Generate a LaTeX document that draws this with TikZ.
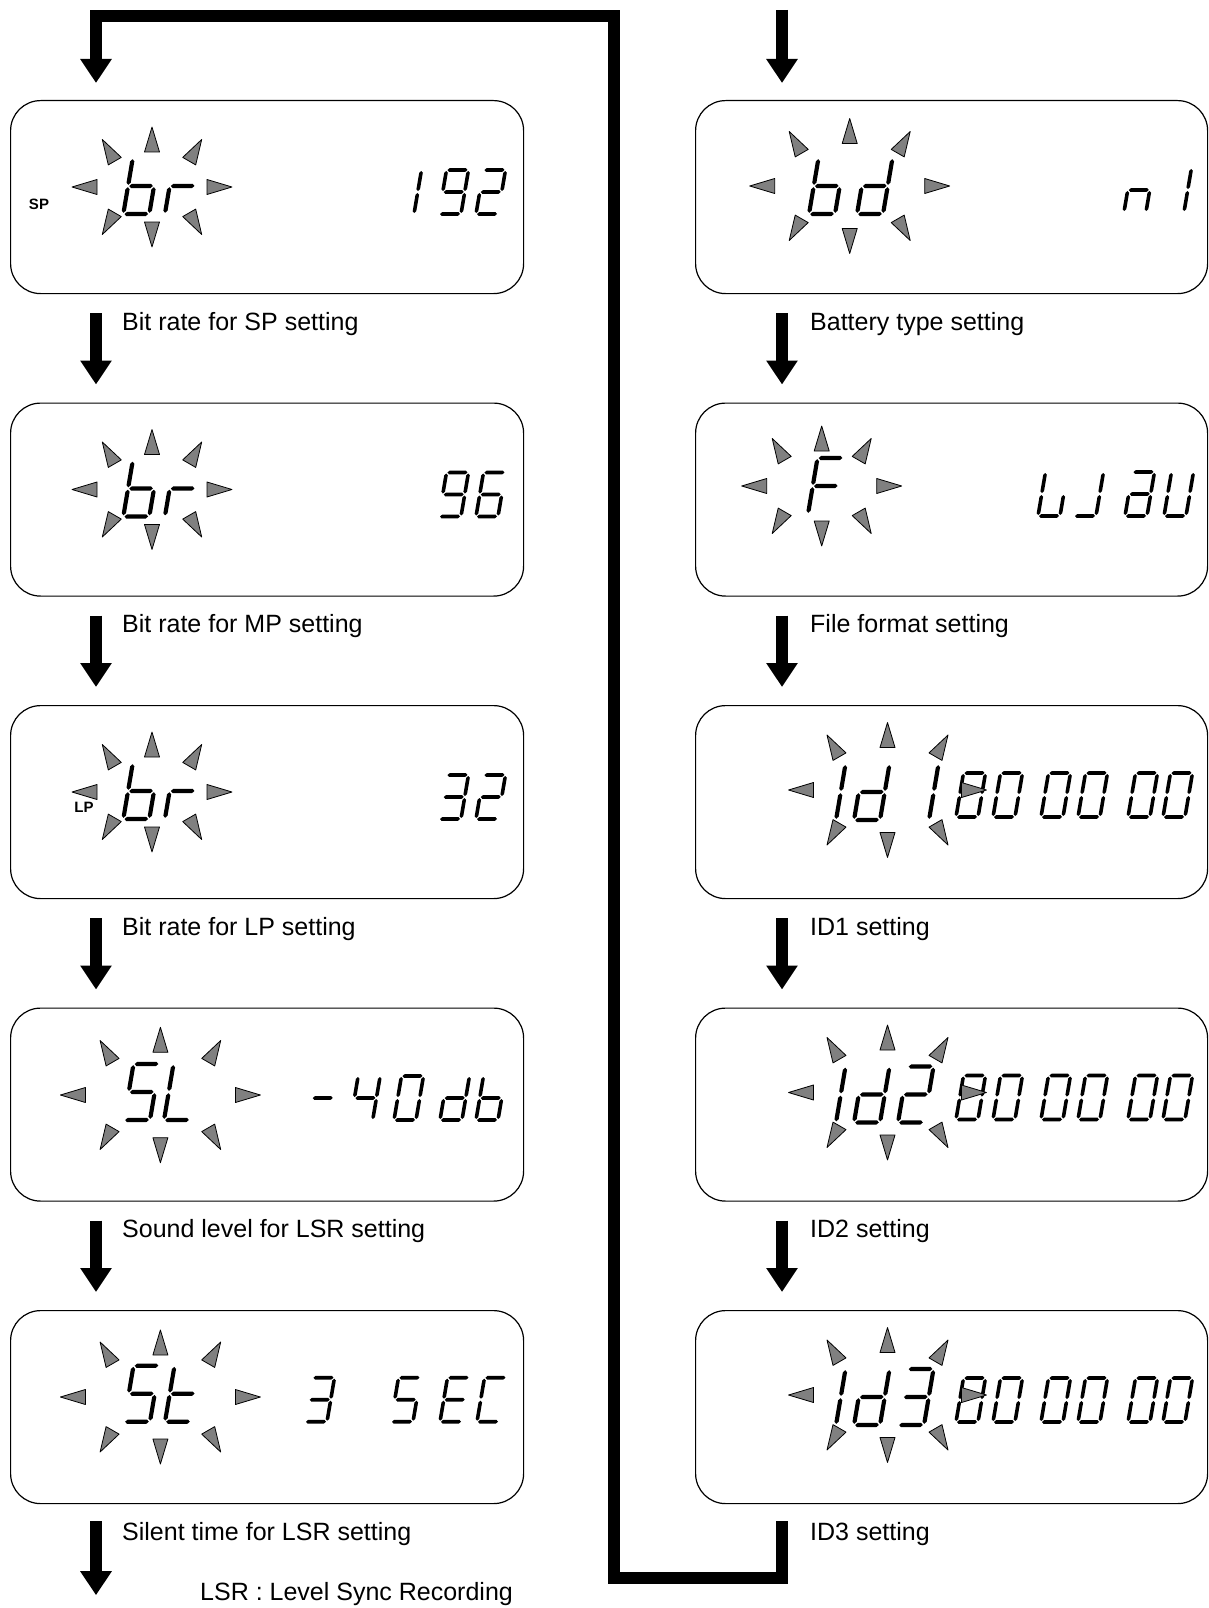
\documentclass[tikz,border=0pt]{standalone}
\usepackage{fontspec}
\setmainfont{Liberation Sans}
\usetikzlibrary{arrows.meta,calc}

\newcommand\lcdbig{\def\lcdW{26}\def\lcdH{56}\def\lcdT{2.1}\def\lcdG{1.2}}
\newcommand\lcdsmall{\def\lcdW{22}\def\lcdH{44}\def\lcdT{1.8}\def\lcdG{1.0}}
\lcdbig
\newcommand\hsg[3]{\fill ({#1+\lcdG},{#3}) -- ({#1+\lcdG+\lcdT},{#3-\lcdT}) -- ({#2-\lcdG-\lcdT},{#3-\lcdT}) -- ({#2-\lcdG},{#3}) -- ({#2-\lcdG-\lcdT},{#3+\lcdT}) -- ({#1+\lcdG+\lcdT},{#3+\lcdT}) -- cycle;}
\newcommand\vsg[3]{\fill ({#1},{#2+\lcdG}) -- ({#1+\lcdT},{#2+\lcdG+\lcdT}) -- ({#1+\lcdT},{#3-\lcdG-\lcdT}) -- ({#1},{#3-\lcdG}) -- ({#1-\lcdT},{#3-\lcdG-\lcdT}) -- ({#1-\lcdT},{#2+\lcdG+\lcdT}) -- cycle;}
\def\sega{\hsg{0}{\lcdW}{-\lcdH}}
\def\segb{\vsg{\lcdW}{-\lcdH}{-\lcdH/2}}
\def\segc{\vsg{\lcdW}{-\lcdH/2}{0}}
\def\segd{\hsg{0}{\lcdW}{0}}
\def\sege{\vsg{0}{-\lcdH/2}{0}}
\def\segf{\vsg{0}{-\lcdH}{-\lcdH/2}}
\def\segg{\hsg{0}{\lcdW}{-\lcdH/2}}
\newcommand\ch[3]{\begin{scope}[shift={({#1},{#2})},xslant=0.17]\foreach \q in {#3}{\csname seg\q\endcsname}\end{scope}}
\newcommand\tri[3]{\begin{scope}[shift={({#1},{#2})},rotate=#3]\draw[tri] (0,0) -- (-25,7.5) -- (-25,-7.5) -- cycle;\end{scope}}
% cx cy rx ry dx dy
\newcommand\burst[6]{%
  \tri{#1+#3}{#2}{0}\tri{#1-#3}{#2}{180}%
  \tri{#1}{#2-#4}{90}\tri{#1}{#2+#4}{270}%
  \tri{#1+#5}{#2-#6}{60}\tri{#1-#5}{#2-#6}{120}%
  \tri{#1-#5}{#2+#6}{240}\tri{#1+#5}{#2+#6}{300}}
\newcommand\zeros[1]{\lcdsmall\foreach \xx in {956,993,1041,1078,1128,1163}{\ch{\xx}{#1}{a,b,c,d,e,f}}}

\tikzset{
  lcdbox/.style={draw, line width=1.2pt, rounded corners=30pt, minimum height=193pt, anchor=north west, inner sep=0pt},
  lbox/.style={lcdbox, minimum width=513pt},
  rbox/.style={lcdbox, minimum width=512pt},
  flow/.style={line width=12pt, line join=miter, -{Triangle[width=30pt,length=24pt]}},
  lbl/.style={anchor=base west, font=\fontsize{25}{29}\selectfont, inner sep=0pt},
  tag/.style={font=\bfseries\fontsize{15}{17}\selectfont, inner sep=0pt},
  tri/.style={fill=gray, draw=black, line width=0.8pt, line join=round},
}

\begin{document}
\begin{tikzpicture}[x=1pt,y=-1pt]
\useasboundingbox (0,0) rectangle (1208,1608);

% boxes
\node[lbox] (L1) at (10,100) {};
\node[lbox] (L2) at (10,402.5) {};
\node[lbox] (L3) at (10,705) {};
\node[lbox] (L4) at (10,1007.5) {};
\node[lbox] (L5) at (10,1310) {};
\node[rbox] (R1) at (695,100) {};
\node[rbox] (R2) at (695,402.5) {};
\node[rbox] (R3) at (695,705) {};
\node[rbox] (R4) at (695,1007.5) {};
\node[rbox] (R5) at (695,1310) {};

% ---- L1: SP br 192
\lcdbig \ch{123.3}{214}{c,d,e,f,g}\ch{164.9}{214}{e,g}
\lcdsmall \ch{414}{214}{e,f}\ch{439}{214}{a,b,c,d,f,g}\ch{476}{214}{a,b,d,e,g}
\burst{152}{187}{80}{60}{49.7}{47.5}
\node[tag] (sp) at (39,204) {SP};

% ---- L2: br 96
\lcdbig \ch{123.3}{516.5}{c,d,e,f,g}\ch{164.9}{516.5}{e,g}
\lcdsmall \ch{439}{516.5}{a,b,c,d,f,g}\ch{476}{516.5}{a,c,d,e,f,g}
\burst{152}{489.5}{80}{60}{49.7}{47.5}

% ---- L3: LP br 32
\lcdbig \ch{123.3}{819}{c,d,e,f,g}\ch{164.9}{819}{e,g}
\lcdsmall \ch{439}{819}{a,b,c,d,g}\ch{476}{819}{a,b,d,e,g}
\burst{152}{792}{80}{60}{49.7}{47.5}
\node[tag] (lp) at (84,807) {LP};

% ---- L4: SL -40db
\lcdbig \ch{124}{1120}{a,c,d,f,g}\ch{164}{1120}{d,e,f}
\lcdsmall \ch{308}{1120}{g}\ch{350.7}{1120}{b,c,f,g}\ch{394}{1120}{a,b,c,d,e,f}
\ch{440}{1120}{b,c,d,e,g}\ch{476}{1120}{c,d,e,f,g}
\burst{160.4}{1095}{100}{67.7}{60.3}{54.5}

% ---- L5: St 3 SEC
\lcdbig \ch{124}{1421.7}{a,c,d,f,g}\ch{165}{1421.7}{d,e,f,g}
\lcdsmall \ch{305}{1421.7}{a,b,c,d,g}\ch{391}{1421.7}{a,c,d,f,g}
\ch{440}{1421.7}{a,d,e,f,g}\ch{477}{1421.7}{a,d,e,f}
\burst{160.4}{1397}{100}{67}{60.3}{55}

% ---- R1: bd n1
\lcdbig \ch{809}{214}{c,d,e,f,g}\ch{857}{214}{b,c,d,e,g}
\lcdsmall \ch{1124}{212}{c,e,g}\ch{1184}{212}{e,f}
\burst{849.7}{186}{100}{67.5}{60.5}{54.5}

% ---- R2: F wav
\lcdbig \ch{808}{514}{a,e,f,g}
\lcdsmall \ch{1038}{516}{c,d,e,f}\ch{1074}{516}{b,c,d}\ch{1125}{516}{a,b,c,d,e,g}\ch{1164}{516}{b,c,d,e,f}
\burst{821.7}{486}{80}{60}{49.5}{47.5}

% ---- R3: Id 1  000000
\lcdbig \ch{836}{820}{e,f}\ch{854}{820}{b,c,d,e,g}\ch{929}{820}{e,f}
\zeros{817}
\burst{887.5}{790}{99}{67.5}{60.5}{55}

% ---- R4: Id2 000000
\lcdbig \ch{836}{1122.5}{e,f}\ch{854}{1122.5}{b,c,d,e,g}\ch{898}{1122.5}{a,b,d,e,g}
\zeros{1119.5}
\burst{887.5}{1092.5}{99}{67.5}{60.5}{55}

% ---- R5: Id3 000000
\lcdbig \ch{836}{1425}{e,f}\ch{854}{1425}{b,c,d,e,g}\ch{898}{1425}{a,b,c,d,g}
\zeros{1422}
\burst{887.5}{1395}{99}{67.5}{60.5}{55}

% labels
\node[lbl] (t1) at ($(L1.south west)+(112,36)$) {Bit rate for SP setting};
\node[lbl] (t2) at ($(L2.south west)+(112,36)$) {Bit rate for MP setting};
\node[lbl] (t3) at ($(L3.south west)+(112,36)$) {Bit rate for LP setting};
\node[lbl] (t4) at ($(L4.south west)+(112,36)$) {Sound level for LSR setting};
\node[lbl] (t5) at ($(L5.south west)+(112,36)$) {Silent time for LSR setting};
\node[lbl] (u1) at ($(R1.south west)+(115,36)$) {Battery type setting};
\node[lbl] (u2) at ($(R2.south west)+(115,36)$) {File format setting};
\node[lbl] (u3) at ($(R3.south west)+(115,36)$) {ID1 setting};
\node[lbl] (u4) at ($(R4.south west)+(115,36)$) {ID2 setting};
\node[lbl] (u5) at ($(R5.south west)+(115,36)$) {ID3 setting};
\node[lbl] (lsr) at (200,1600) {LSR : Level Sync Recording};

% arrows between boxes
\foreach \a/\b in {L1/L2,L2/L3,L3/L4,L4/L5}{
  \draw[flow] ($(\a.south west)+(86,19)$) -- ($(\b.north west)+(86,-18)$);
}
\foreach \a/\b in {R1/R2,R2/R3,R3/R4,R4/R5}{
  \draw[flow] ($(\a.south west)+(87,19)$) -- ($(\b.north west)+(87,-18)$);
}
% left column exit, right column entry
\coordinate (lout) at ($(L5.south west)+(86,91)$);
\draw[flow] ($(L5.south west)+(86,17)$) -- (lout);
\coordinate (rin) at (782,10);
\draw[flow] (rin) -- ($(R1.north west)+(87,-17)$);
% loop back from right column bottom to top of left column
\coordinate (c1) at (782,1578);
\coordinate (c2) at (614,1578);
\coordinate (c3) at (614,16);
\coordinate (c4) at (96,16);
\draw[flow] ($(R5.south west)+(87,17)$) -- (c1) -- (c2) -- (c3) -- (c4) -- ($(L1.north west)+(86,-17)$);
\end{tikzpicture}
\end{document}
